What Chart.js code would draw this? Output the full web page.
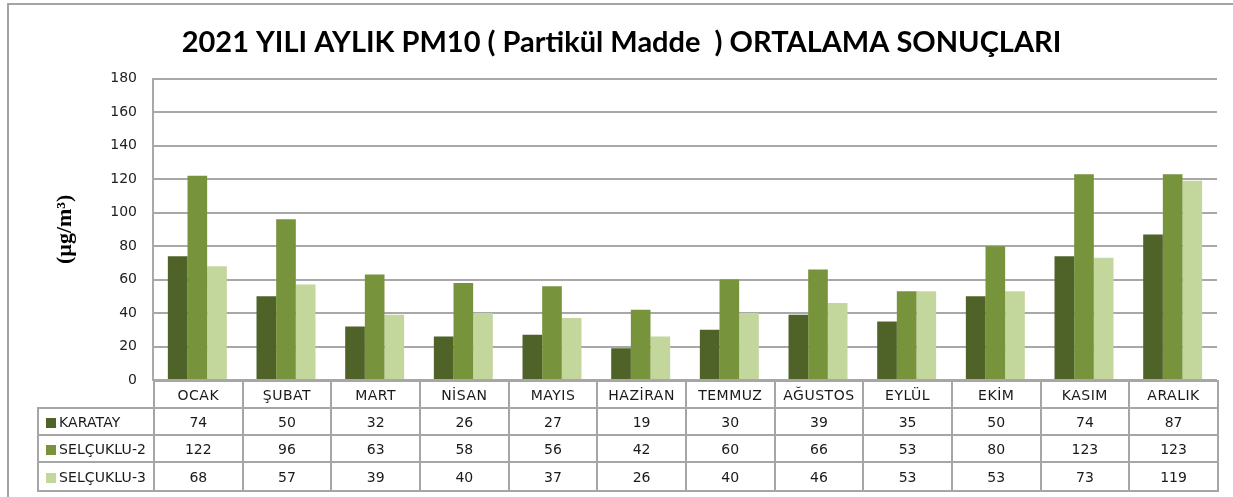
<!DOCTYPE html>
<html>
<head>
<meta charset="utf-8">
<script src="https://cdn.jsdelivr.net/npm/chart.js@4.4.1/dist/chart.umd.min.js"></script>
<style>
  html, body { margin: 0; padding: 0; background: #fff; }
  #wrap { position: relative; width: 1233px; height: 497px; overflow: hidden; background: #fff; }
  #frame { position: absolute; left: 7px; top: 3px; width: 1300px; height: 600px;
           border-top: 2px solid #a3a3a3; border-left: 2px solid #a3a3a3; }
  #chart { position: absolute; left: 0; top: 0; }
  #dataTable { position: absolute; border-collapse: collapse; table-layout: fixed;
               font-family: "DejaVu Sans", sans-serif; font-size: 14px; color: #1a1a1a; }
  #dataTable td, #dataTable th { border: 2px solid #a6a6a6; text-align: center; padding: 0;
               font-weight: normal; white-space: nowrap; overflow: hidden; }
  #dataTable th.cat { letter-spacing: 0.5px; }
  #dataTable th.corner { border-top: none; border-left: none; }
  #dataTable td.name { text-align: left; padding-left: 7px; letter-spacing: 0.1px; }
  .sw { display: inline-block; width: 10px; height: 10px; margin-right: 3px; vertical-align: -1px; }
</style>
</head>
<body>
<div id="wrap">
  <div id="frame"></div>
  <canvas id="chart" width="1233" height="497"></canvas>
  <table id="dataTable"></table>
</div>
<script>
// ---- data ----
const categories = ['OCAK', 'ŞUBAT', 'MART', 'NİSAN', 'MAYIS', 'HAZİRAN', 'TEMMUZ', 'AĞUSTOS', 'EYLÜL', 'EKİM', 'KASIM', 'ARALIK'];
const seriesNames = ['KARATAY', 'SELÇUKLU-2', 'SELÇUKLU-3'];
const karatay   = [74, 50, 32, 26, 27, 19, 30, 39, 35, 50, 74, 87];
const selcuklu2 = [122, 96, 63, 58, 56, 42, 60, 66, 53, 80, 123, 123];
const selcuklu3 = [68, 57, 39, 40, 37, 26, 40, 46, 53, 53, 73, 119];
const yTickMin = 0;
const yTickMax = 180;
const yTickStep = 20;
const chartTitle = '2021 YILI AYLIK PM10 ( Partikül Madde  ) ORTALAMA SONUÇLARI';
const yAxisTitle = '(µg/m³)';
const seriesColors = ['#4F6228', '#77933C', '#C3D69B'];
const seriesValues = [karatay, selcuklu2, selcuklu3];

// ---- chart ----
const ctx = document.getElementById('chart').getContext('2d');
const chart = new Chart(ctx, {
  type: 'bar',
  data: {
    labels: categories,
    datasets: seriesNames.map((name, i) => ({
      label: name,
      data: seriesValues[i],
      backgroundColor: seriesColors[i],
      borderWidth: 0
    }))
  },
  options: {
    responsive: false,
    animation: false,
    layout: { padding: { left: 26, right: 16, top: 0, bottom: 117 } },
    datasets: { bar: { categoryPercentage: 0.665, barPercentage: 1 } },
    plugins: {
      legend: { display: false },
      tooltip: { enabled: false },
      title: {
        display: true,
        text: chartTitle,
        color: '#000',
        font: { family: 'Lato', weight: 'bold', size: 29, lineHeight: 1.2 },
        padding: { top: 25, bottom: 19 }
      }
    },
    scales: {
      x: { display: false },
      y: {
        min: yTickMin,
        max: yTickMax,
        ticks: { stepSize: yTickStep, padding: 16, color: '#222',
                 font: { family: 'DejaVu Sans', size: 14 } },
        grid: { color: '#a8a8a8', lineWidth: 2, drawTicks: false },
        border: { color: '#a8a8a8', width: 2 },
        title: {
          display: true,
          text: yAxisTitle,
          color: '#000',
          font: { family: 'Liberation Serif', weight: 'bold', size: 22 },
          padding: { top: 26, bottom: 0 }
        },
        afterFit(scale) { scale.width = 127; }
      }
    }
  }
});

// ---- data table under the plot, aligned to the category scale ----
function buildTable() {
  const ca = chart.chartArea;
  const n = categories.length;
  const colW = (ca.right - ca.left) / n;
  const nameW = 116;
  const table = document.getElementById('dataTable');
  table.style.left = (ca.left - nameW) + 'px';
  table.style.top = ca.bottom + 'px';
  table.style.width = (nameW + ca.right - ca.left) + 'px';
  let html = '<colgroup><col style="width:' + nameW + 'px">';
  for (let i = 0; i < n; i++) html += '<col style="width:' + colW + 'px">';
  html += '</colgroup>';
  html += '<tr style="height:27px"><th class="corner"></th>' +
          categories.map(c => '<th class="cat">' + c + '</th>').join('') + '</tr>';
  const rowH = [27, 27, 29];
  seriesNames.forEach((name, i) => {
    html += '<tr style="height:' + rowH[i] + 'px"><td class="name"><span class="sw" style="background:' +
            seriesColors[i] + '"></span>' + name + '</td>' +
            seriesValues[i].map(v => '<td>' + v + '</td>').join('') + '</tr>';
  });
  table.innerHTML = html;
}
buildTable();
</script>
</body>
</html>
